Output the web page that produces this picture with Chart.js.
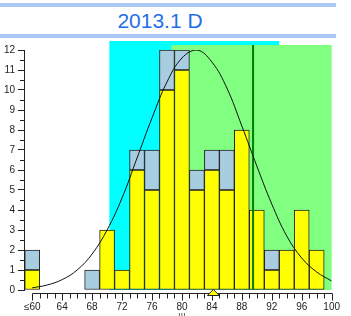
<!DOCTYPE html>
<html lang="pt-br">
<head>
<meta charset="UTF-8">
<title>2013.1 D</title>
<script src="https://cdn.jsdelivr.net/npm/chart.js"></script>
<style>
    body { margin: 0; width: 351px; height: 316px; overflow: hidden; background: #fff; position: relative; font-family: "Liberation Sans", Arial, sans-serif; }
    #titulo { position: absolute; left: 0; top: 3px; width: 320px; padding-right: 16px; height: 27px; line-height: 27px;
              border-top: 4px solid #a9c8f4; border-bottom: 4px solid #a9c8f4; text-align: center; font-size: 21px; color: #1f6fe8; }
    #caixa { position: absolute; left: 0; top: 40px; width: 351px; height: 276px; }
</style>
</head>
<body>
<div id="titulo">2013.1 D</div>
<div id="caixa"><canvas id="grafico"></canvas></div>
<script>
    // histograma: centro de cada classe (largura 2)
    const centrosClasses = [60, 62, 64, 66, 68, 70, 72, 74, 76, 78, 80, 82, 84, 86, 88, 90, 92, 94, 96, 98];
    const qtdAmarelo = [1, 0, 0, 0, 0, 3, 1, 6, 5, 10, 11, 5, 6, 5, 8, 4, 1, 2, 4, 2];
    const qtdAzul = [1, 0, 0, 0, 1, 0, 0, 1, 2, 2, 1, 1, 1, 2, 0, 0, 1, 0, 0, 0];

    // curva normal
    const curvaX = [60, 62, 64, 66, 68, 70, 72, 74, 76, 78, 80, 82, 84, 86, 88, 90, 92, 94, 96, 98, 100];
    const curvaY = [0.11, 0.25, 0.52, 1.0, 1.8, 3.0, 4.6, 6.6, 8.6, 10.4, 11.6, 12.0, 11.4, 10.1, 8.2, 6.2, 4.3, 2.7, 1.6, 0.9, 0.45];

    const ticksX = [60, 64, 68, 72, 76, 80, 84, 88, 92, 96, 100];
    const rotulosX = ['≤60', '64', '68', '72', '76', '80', '84', '88', '92', '96', '100'];

    // faixas de fundo [inicio, fim, topo]
    const faixaCiano = [70.3, 93.0, 12.45];
    const faixaVerde = [78.6, 100, 12.25];
    const linhaVerdeX = 89.5;
    const marcadorX = 84.2;

    const pontos = (xs, ys) => xs.map((v, i) => ({ x: v, y: ys[i] === 0 ? null : ys[i] }));

    const fundo = {
        id: 'fundo',
        beforeDatasetsDraw(chart) {
            const { ctx, scales: { x, y } } = chart;
            ctx.save();
            const faixa = (f, cor) => {
                const x1 = x.getPixelForValue(f[0]);
                const x2 = x.getPixelForValue(f[1]);
                const y1 = y.getPixelForValue(f[2]);
                const y2 = y.getPixelForValue(0);
                ctx.fillStyle = cor;
                ctx.fillRect(x1, y1, x2 - x1, y2 - y1);
            };
            faixa(faixaCiano, '#00ffff');
            faixa(faixaVerde, '#80ff80');
            ctx.restore();
        },
        afterDraw(chart) {
            const { ctx, scales: { x, y } } = chart;
            ctx.save();
            ctx.strokeStyle = '#222';
            ctx.lineWidth = 1;
            // eixo x deslocado abaixo das barras
            const yEixo = Math.round(y.getPixelForValue(0)) + 3.5;
            ctx.beginPath();
            ctx.moveTo(Math.round(x.getPixelForValue(60)) + 0.5, yEixo);
            ctx.lineTo(Math.round(x.getPixelForValue(100)) + 0.5, yEixo);
            for (let v = 60; v <= 100; v++) {
                const px = Math.round(x.getPixelForValue(v)) + 0.5;
                ctx.moveTo(px, yEixo);
                ctx.lineTo(px, yEixo + (v % 4 === 0 ? 7 : 5));
            }
            // marcas menores do eixo y
            for (let v = 0.5; v < 12; v++) {
                const py = Math.round(y.getPixelForValue(v)) + 0.5;
                ctx.moveTo(chart.chartArea.left - 4, py);
                ctx.lineTo(chart.chartArea.left, py);
            }
            ctx.stroke();
            // marcador triangular
            const mx = x.getPixelForValue(marcadorX);
            ctx.beginPath();
            ctx.moveTo(mx, yEixo - 4);
            ctx.lineTo(mx + 6, yEixo + 2);
            ctx.lineTo(mx - 6, yEixo + 2);
            ctx.closePath();
            ctx.fillStyle = '#ffff00';
            ctx.fill();
            ctx.stroke();
            ctx.fillStyle = '#444';
            ctx.font = '9px "Liberation Sans", Arial, sans-serif';
            ctx.textAlign = 'center';
            ctx.textBaseline = 'top';
            ctx.fillText('ш', x.getPixelForValue(80), yEixo + 18);
            ctx.restore();
        }
    };

    new Chart(document.getElementById('grafico'), {
        type: 'bar',
        data: {
            datasets: [
                {
                    type: 'line',
                    data: pontos(curvaX, curvaY),
                    borderColor: '#111',
                    borderWidth: 1,
                    pointRadius: 0,
                    tension: 0.4,
                    stack: 'curva'
                },
                {
                    type: 'line',
                    data: [{ x: linhaVerdeX, y: 0 }, { x: linhaVerdeX, y: faixaVerde[2] }],
                    borderColor: '#008000',
                    borderWidth: 2,
                    pointRadius: 0,
                    clip: false,
                    stack: 'linha'
                },
                {
                    data: pontos(centrosClasses, qtdAmarelo),
                    backgroundColor: '#ffff00',
                    borderColor: '#222',
                    borderWidth: 1,
                    borderSkipped: false,
                    barPercentage: 1,
                    categoryPercentage: 1,
                    stack: 'hist'
                },
                {
                    data: pontos(centrosClasses, qtdAzul),
                    backgroundColor: '#a8cce0',
                    borderColor: '#222',
                    borderWidth: 1,
                    borderSkipped: false,
                    barPercentage: 1,
                    categoryPercentage: 1,
                    stack: 'hist'
                }
            ]
        },
        options: {
            responsive: true,
            maintainAspectRatio: false,
            animation: false,
            layout: { padding: { top: 10, right: 19, left: 0, bottom: 0 } },
            plugins: { legend: { display: false }, tooltip: { enabled: false } },
            scales: {
                x: {
                    type: 'linear',
                    min: 58.9,
                    max: 100,
                    offset: false,
                    grid: { display: false, drawTicks: false },
                    border: { display: false },
                    afterBuildTicks: (s) => { s.ticks = ticksX.map(v => ({ value: v })); },
                    afterFit: (s) => { s.height = 26; },
                    ticks: {
                        autoSkip: false,
                        maxRotation: 0,
                        padding: 11,
                        color: '#222',
                        font: { family: '"Liberation Sans", Arial, sans-serif', size: 10 },
                        callback: (v) => rotulosX[ticksX.indexOf(v)]
                    }
                },
                y: {
                    min: 0,
                    max: 12,
                    stacked: true,
                    afterFit: (s) => { s.width = 24; },
                    grid: { drawOnChartArea: false, tickLength: 6, tickColor: '#222' },
                    border: { color: '#222' },
                    ticks: {
                        stepSize: 1,
                        padding: 3,
                        color: '#222',
                        font: { family: '"Liberation Sans", Arial, sans-serif', size: 10 }
                    }
                }
            }
        },
        plugins: [fundo]
    });
</script>
</body>
</html>
